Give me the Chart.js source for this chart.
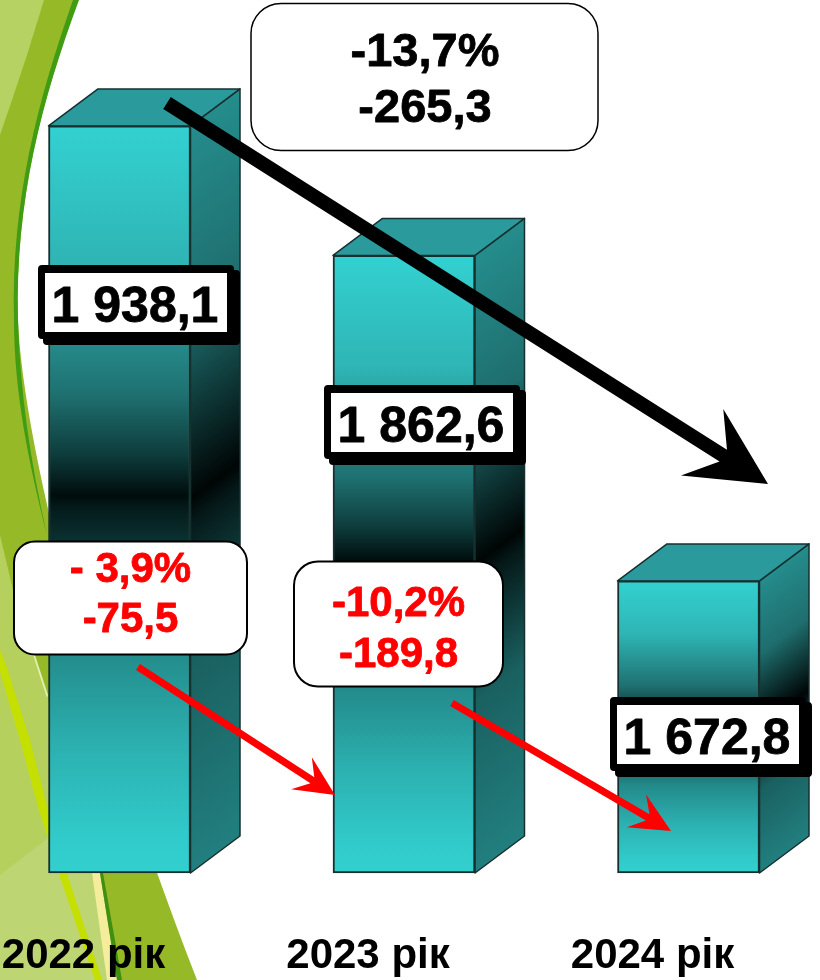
<!DOCTYPE html>
<html lang="uk">
<head>
<meta charset="utf-8">
<title>2022-2024</title>
<style>
    html, body { margin: 0; padding: 0; background: #fff; }
    canvas { display: block; }
</style>
<script src="https://cdn.jsdelivr.net/npm/chart.js@4"></script>
</head>
<body>
<canvas id="mainChart" width="820" height="980"></canvas>
<script>
const categories = ['2022 рік', '2023 рік', '2024 рік'];
const values = [1938.1, 1862.6, 1672.8];
const valueLabels = ['1 938,1', '1 862,6', '1 672,8'];
const stepLabels = [['- 3,9%', '-75,5'], ['-10,2%', '-189,8']];
const totalLabels = ['-13,7%', '-265,3'];

const AXIS_MIN = 1502.5;
const AXIS_MAX = 2011.5;
const FONT = '"Liberation Sans", Arial, sans-serif';
const DEPTH_X = 49.5;
const DEPTH_Y = 37;

// Mặt trước: sáng - tối - sáng theo chiều cao cột
function frontGradient(context) {
    const chart = context.chart;
    if (!chart.chartArea) return '#33d1d1';
    const top = chart.scales.y.getPixelForValue(values[context.dataIndex]);
    const g = chart.ctx.createLinearGradient(0, top, 0, chart.chartArea.bottom);
    g.addColorStop(0, '#33d1d1');
    g.addColorStop(0.18, '#2fb5b5');
    g.addColorStop(0.36, '#1f7070');
    g.addColorStop(0.44, '#0e3c3c');
    g.addColorStop(0.495, '#000c0c');
    g.addColorStop(0.51, '#041a1a');
    g.addColorStop(0.57, '#0d3838');
    g.addColorStop(0.7, '#238a8a');
    g.addColorStop(0.83, '#2cb0b0');
    g.addColorStop(0.95, '#31caca');
    g.addColorStop(1, '#33d0d0');
    return g;
}

// Nền trang trí màu xanh lá bên trái
const backgroundPlugin = {
    id: 'greenBackground',
    beforeDraw(chart) {
        const ctx = chart.ctx;
        const poly = (pts, color) => {
            ctx.beginPath();
            pts.forEach((p, i) => i ? ctx.lineTo(p[0], p[1]) : ctx.moveTo(p[0], p[1]));
            ctx.closePath();
            ctx.fillStyle = color;
            ctx.fill();
        };
        ctx.save();
        ctx.fillStyle = '#ffffff';
        ctx.fillRect(0, 0, 820, 980);

        // dải xanh đậm chính
        ctx.beginPath();
        ctx.moveTo(0, 0);
        ctx.lineTo(78, 0);
        ctx.bezierCurveTo(42, 100, 15, 200, 18, 320);
        ctx.bezierCurveTo(22, 420, 70, 650, 197, 980);
        ctx.lineTo(0, 980);
        ctx.closePath();
        ctx.fillStyle = '#96b928';
        ctx.fill();

        // viền xanh thẫm
        ctx.beginPath();
        ctx.moveTo(79, 0);
        ctx.bezierCurveTo(42, 100, 15, 200, 18, 320);
        ctx.bezierCurveTo(20, 390, 30, 460, 47, 535);
        ctx.bezierCurveTo(28, 460, 14, 390, 14, 320);
        ctx.bezierCurveTo(11, 200, 38, 100, 73, 0);
        ctx.closePath();
        ctx.fillStyle = '#409c12';
        ctx.fill();

        // vùng sáng góc trên
        poly([[0, 0], [44, 0], [27, 55], [12, 100], [0, 135]], '#b6d263');

        // vùng sáng phía dưới
        poly([[0, 535], [13, 590], [33, 655], [47, 695], [92, 873], [112, 980], [0, 980]], '#b5d05c');
        poly([[0, 875], [48, 838], [92, 873], [112, 980], [0, 980]], '#bdd572');

        // các sọc
        poly([[0, 650], [6, 665], [30, 740], [47, 807], [68, 877], [102, 980], [95, 980], [60, 877], [38, 807], [20, 740], [0, 672]], '#c5e000');
        poly([[92, 873], [100, 873], [117, 980], [107, 980]], '#f4ee9c');
        poly([[100, 873], [103, 873], [122, 980], [117, 980]], '#3f8f10');
        poly([[33, 655], [35, 655], [48, 695], [47, 698]], '#e4eeb0');
        ctx.restore();
    }
};

// Vẽ mặt bên và mặt trên của cột 3D
const box3dPlugin = {
    id: 'box3d',
    beforeDatasetsDraw(chart) {
        const ctx = chart.ctx;
        chart.getDatasetMeta(0).data.forEach(bar => {
            const left = bar.x - bar.width / 2;
            const right = bar.x + bar.width / 2;
            const top = bar.y;
            const bottom = bar.base;

            // gradient chéo vuông góc với đường gấp trên mặt bên
            const cx = right + DEPTH_X / 2;
            const cy = (top + bottom) / 2 - DEPTH_Y / 2;
            const d = (bottom - top) / 2 * 0.804;
            const g = ctx.createLinearGradient(cx - d * 0.594, cy - d * 0.804, cx + d * 0.594, cy + d * 0.804);
            g.addColorStop(0, '#258c8c');
            g.addColorStop(0.25, '#1f6e6e');
            g.addColorStop(0.5, '#000505');
            g.addColorStop(0.53, '#051818');
            g.addColorStop(0.72, '#1a6060');
            g.addColorStop(1, '#227f7f');

            ctx.save();
            ctx.lineWidth = 1.5;
            ctx.lineJoin = 'round';
            ctx.strokeStyle = '#16302f';

            ctx.beginPath();
            ctx.moveTo(right, top);
            ctx.lineTo(right + DEPTH_X, top - DEPTH_Y);
            ctx.lineTo(right + DEPTH_X, bottom - DEPTH_Y);
            ctx.lineTo(right, bottom);
            ctx.closePath();
            ctx.fillStyle = g;
            ctx.fill();
            ctx.stroke();

            ctx.beginPath();
            ctx.moveTo(left, top);
            ctx.lineTo(left + DEPTH_X, top - DEPTH_Y);
            ctx.lineTo(right + DEPTH_X, top - DEPTH_Y);
            ctx.lineTo(right, top);
            ctx.closePath();
            ctx.fillStyle = '#2a9a9c';
            ctx.fill();
            ctx.stroke();
            ctx.restore();
        });
    }
};

function drawArrow(ctx, x0, y0, x1, y1, opt) {
    const len = Math.hypot(x1 - x0, y1 - y0);
    const ux = (x1 - x0) / len, uy = (y1 - y0) / len;
    const nx = -uy, ny = ux;
    const at = (back, side) => [x1 - ux * back + nx * side, y1 - uy * back + ny * side];
    const pts = [
        [x0 + nx * opt.half, y0 + ny * opt.half],
        at(opt.notch, opt.half),
        at(opt.head, opt.wing),
        [x1, y1],
        at(opt.head, -opt.wing),
        at(opt.notch, -opt.half),
        [x0 - nx * opt.half, y0 - ny * opt.half]
    ];
    ctx.beginPath();
    pts.forEach((p, i) => i ? ctx.lineTo(p[0], p[1]) : ctx.moveTo(p[0], p[1]));
    ctx.closePath();
    ctx.fillStyle = opt.color;
    ctx.fill();
}

// Chữ đậm hơn một chút cho giống bản gốc
function heavyText(ctx, text, x, y, color) {
    ctx.fillStyle = color;
    ctx.strokeStyle = color;
    ctx.lineWidth = 0.8;
    ctx.lineJoin = 'round';
    ctx.fillText(text, x, y);
    ctx.strokeText(text, x, y);
}

function drawNoteBox(ctx, x, y, w, h, r, lineWidth, color, lines, size, centerX, baselines) {
    ctx.beginPath();
    ctx.roundRect(x, y, w, h, r);
    ctx.fillStyle = '#ffffff';
    ctx.fill();
    ctx.lineWidth = lineWidth;
    ctx.strokeStyle = '#000000';
    ctx.stroke();
    ctx.font = `bold ${size}px ${FONT}`;
    ctx.textAlign = 'center';
    ctx.textBaseline = 'alphabetic';
    lines.forEach((t, i) => heavyText(ctx, t, centerX, baselines[i], color));
}

// Mũi tên, hộp giá trị và hộp chênh lệch nằm trên cùng
const notesPlugin = {
    id: 'notes',
    afterDraw(chart) {
        const ctx = chart.ctx;
        ctx.save();

        const blackArrow = { half: 7, notch: 53, head: 78, wing: 39.5, color: '#000000' };
        const redArrow = { half: 3.6, notch: 27, head: 40, wing: 19, color: '#ff0000' };
        drawArrow(ctx, 167, 103, 768, 484, blackArrow);
        drawArrow(ctx, 138, 667, 335, 795, redArrow);
        drawArrow(ctx, 452, 703, 671, 831, redArrow);

        // Hộp giá trị viền đen dày
        const boxLeft = [38, 324, 610];
        const boxTop = [265, 385, 697];
        valueLabels.forEach((label, i) => {
            const x = boxLeft[i], y = boxTop[i];
            ctx.fillStyle = '#000000';
            ctx.beginPath();
            ctx.roundRect(x, y, 196, 74, 4);
            ctx.roundRect(x + 5, y + 5, 197, 75, 4);
            ctx.fill();
            ctx.fillStyle = '#ffffff';
            ctx.fillRect(x + 7, y + 8, 182, 59);
            ctx.font = `bold 50px ${FONT}`;
            ctx.textAlign = 'center';
            ctx.textBaseline = 'alphabetic';
            heavyText(ctx, label, x + 97, y + 57, '#000000');
        });

        drawNoteBox(ctx, 251, 3.5, 347, 147, 30, 1.5, '#000000', totalLabels, 47, 425, [66, 122]);
        drawNoteBox(ctx, 14, 541.5, 233, 113, 21, 2, '#ff0000', stepLabels[0], 42, 130.5, [582, 632]);
        drawNoteBox(ctx, 294, 561.5, 209, 125, 24, 2, '#ff0000', stepLabels[1], 42, 398.5, [616, 667]);

        ctx.restore();
    }
};

new Chart(document.getElementById('mainChart'), {
    type: 'bar',
    data: {
        labels: categories,
        datasets: [{
            data: values,
            base: AXIS_MIN,
            barThickness: 142,
            backgroundColor: frontGradient,
            borderColor: '#16302f',
            borderWidth: 2,
            borderSkipped: false,
            clip: false
        }]
    },
    options: {
        responsive: false,
        animation: false,
        layout: { padding: { left: 119.5, right: 131.5, top: 0, bottom: 0 } },
        plugins: { legend: { display: false }, tooltip: { enabled: false } },
        scales: {
            x: {
                offset: false,
                grid: { display: false },
                border: { display: false },
                afterFit: scale => {
                    scale.height = 107;
                    scale.paddingLeft = 0;
                    scale.paddingRight = 0;
                },
                ticks: {
                    autoSkip: false,
                    maxRotation: 0,
                    minRotation: 0,
                    labelOffset: -36,
                    padding: 50,
                    color: '#000000',
                    font: { family: FONT, size: 42, weight: 'bold' }
                }
            },
            y: {
                display: false,
                min: AXIS_MIN,
                max: AXIS_MAX
            }
        }
    },
    plugins: [backgroundPlugin, box3dPlugin, notesPlugin]
});
</script>
</body>
</html>
